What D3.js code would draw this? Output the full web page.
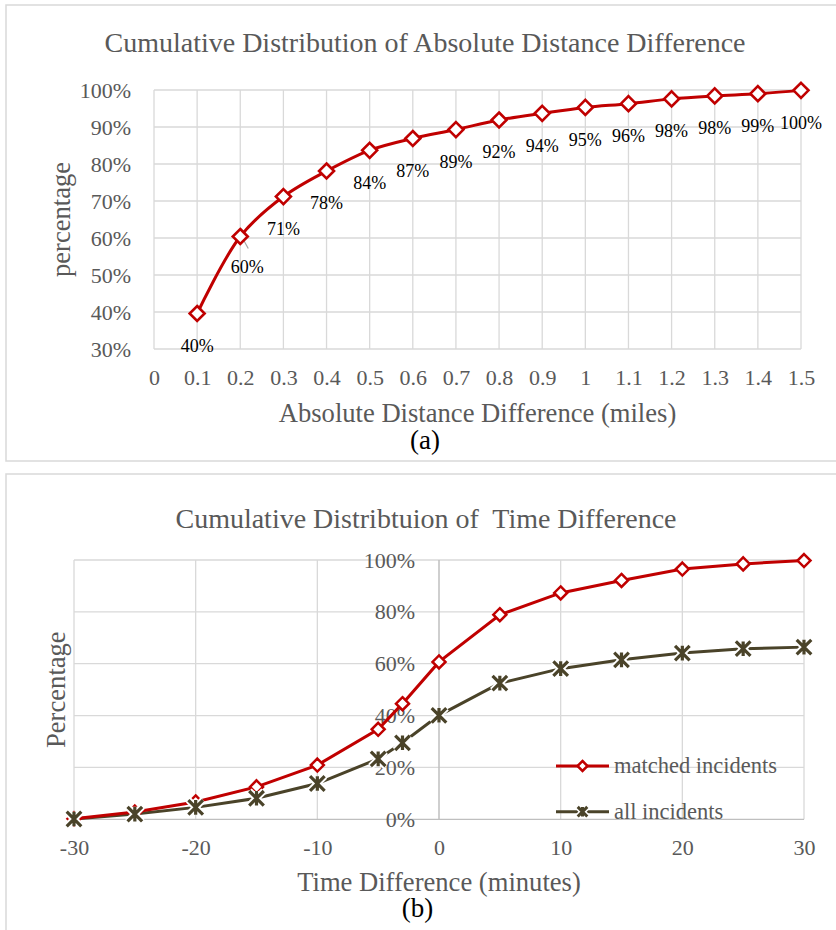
<!DOCTYPE html>
<html>
<head>
<meta charset="utf-8">
<script src="https://cdn.jsdelivr.net/npm/d3@7"></script>
<style>
  body { margin: 0; background: #fff; }
  svg { display: block; font-family: 'Liberation Serif', 'Times New Roman', serif; }
</style>
</head>
<body>
<svg id="chart" width="836" height="930"></svg>
<script>
// (a) cumulative distribution of absolute distance difference
const distMiles = [0.1, 0.2, 0.3, 0.4, 0.5, 0.6, 0.7, 0.8, 0.9, 1.0, 1.1, 1.2, 1.3, 1.4, 1.5];
const distPct = [0.396, 0.604, 0.712, 0.781, 0.837, 0.869, 0.893, 0.919, 0.937, 0.953, 0.963, 0.976, 0.984, 0.990, 0.999];
const distXTicks = d3.range(0, 16).map(i => i / 10);
const distYTicks = [0.3, 0.4, 0.5, 0.6, 0.7, 0.8, 0.9, 1.0];

// (b) cumulative distribution of time difference
const timeMinutes = [-30, -25, -20, -15, -10, -5, -3, 0, 5, 10, 15, 20, 25, 30];
const matchedPct = [0.002, 0.028, 0.067, 0.125, 0.209, 0.347, 0.446, 0.607, 0.789, 0.873, 0.921, 0.965, 0.985, 0.998];
const allPct = [0.001, 0.020, 0.046, 0.081, 0.138, 0.233, 0.295, 0.401, 0.525, 0.581, 0.615, 0.641, 0.658, 0.664];
const timeXTicks = [-30, -20, -10, 0, 10, 20, 30];
const timeYTicks = [0, 0.2, 0.4, 0.6, 0.8, 1.0];
const seriesNames = ['matched incidents', 'all incidents'];

const RED = '#c00000';
const DARK = '#4a4329';
const GRID = '#d9d9d9';
const AXIS = '#bfbfbf';
const TEXT = '#595959';

const svg = d3.select('#chart');
const pct = d3.format('.0%');

const diamond = r => `M0,${-r}L${r},0L0,${r}L${-r},0Z`;
const star = r => `M${-r},${-r}L${r},${r}M${-r},${r}L${r},${-r}M0,${-r}L0,${r}`;

// frames
svg.append('rect').attr('x', 6).attr('y', 5).attr('width', 840).attr('height', 456)
  .attr('fill', 'none').attr('stroke', GRID).attr('stroke-width', 1.5);
svg.append('rect').attr('x', 6).attr('y', 474).attr('width', 840).attr('height', 480)
  .attr('fill', 'none').attr('stroke', GRID).attr('stroke-width', 1.5);

function styleAxis(g, size) {
  g.select('.domain').remove();
  g.selectAll('text').style('font-size', size + 'px').attr('fill', TEXT)
    .style('font-family', "'Liberation Serif', 'Times New Roman', serif");
}

// ---------- chart (a) ----------
{
  const x = d3.scaleLinear([0, 1.5], [154, 801]);
  const y = d3.scaleLinear([0.3, 1], [349, 90]);
  const g = svg.append('g');

  // gridlines
  g.append('g').selectAll('line').data(distXTicks).join('line')
    .attr('x1', d => x(d)).attr('x2', d => x(d)).attr('y1', y(1)).attr('y2', y(0.3))
    .attr('stroke', GRID).attr('stroke-width', 1.3);
  g.append('g').selectAll('line').data(distYTicks).join('line')
    .attr('x1', x(0)).attr('x2', x(1.5)).attr('y1', d => y(d)).attr('y2', d => y(d))
    .attr('stroke', GRID).attr('stroke-width', 1.3);

  g.append('g').attr('transform', `translate(0,${y(0.3)})`)
    .call(d3.axisBottom(x).tickValues(distXTicks).tickFormat(d => String(+d.toFixed(1))).tickSize(0).tickPadding(20))
    .call(a => styleAxis(a, 22));
  g.append('g').attr('transform', `translate(${x(0)},0)`)
    .call(d3.axisLeft(y).tickValues(distYTicks).tickFormat(pct).tickSize(0).tickPadding(23))
    .call(a => styleAxis(a, 22));

  const pts = distMiles.map((m, i) => [x(m), y(distPct[i])]);
  g.append('path').attr('d', d3.line().curve(d3.curveCatmullRom.alpha(0.5))(pts))
    .attr('fill', 'none').attr('stroke', RED).attr('stroke-width', 3);

  // leader line for the moved 60% label
  g.append('line').attr('x1', pts[1][0] + 3).attr('y1', pts[1][1] + 3)
    .attr('x2', pts[1][0] + 8).attr('y2', pts[1][1] + 12)
    .attr('stroke', '#a6a6a6').attr('stroke-width', 1.2);

  g.append('g').selectAll('path').data(pts).join('path')
    .attr('transform', d => `translate(${d[0]},${d[1]})`)
    .attr('d', diamond(7.5)).attr('fill', '#fff').attr('stroke', RED).attr('stroke-width', 2.6);

  g.append('g').selectAll('text').data(pts).join('text')
    .attr('x', (d, i) => d[0] + (i === 1 ? 7 : 0))
    .attr('y', (d, i) => d[1] + (i === 1 ? 30 : 32))
    .attr('dy', '0.35em').attr('text-anchor', 'middle')
    .style('font-size', '18px').attr('fill', '#000')
    .text((d, i) => pct(distPct[i]));

  svg.append('text').attr('x', 425).attr('y', 52).attr('text-anchor', 'middle')
    .style('font-size', '28px').attr('fill', TEXT)
    .text('Cumulative Distribution of Absolute Distance Difference');
  svg.append('text').attr('x', (x(0) + x(1.5)) / 2).attr('y', 422).attr('text-anchor', 'middle')
    .style('font-size', '26.6px').attr('fill', TEXT)
    .text('Absolute Distance Difference (miles)');
  svg.append('text').attr('transform', `translate(70,${(y(0.3) + y(1)) / 2}) rotate(-90)`)
    .attr('text-anchor', 'middle').style('font-size', '26.6px').attr('fill', TEXT)
    .text('percentage');
  svg.append('text').attr('x', 425).attr('y', 449).attr('text-anchor', 'middle')
    .style('font-size', '27px').attr('fill', '#000').text('(a)');
}

// ---------- chart (b) ----------
{
  const x = d3.scaleLinear([-30, 30], [74, 804]);
  const y = d3.scaleLinear([0, 1], [819.3, 560]);
  const g = svg.append('g');

  g.append('g').selectAll('line').data(timeXTicks.filter(d => d !== 0)).join('line')
    .attr('x1', d => x(d)).attr('x2', d => x(d)).attr('y1', y(1)).attr('y2', y(0))
    .attr('stroke', GRID).attr('stroke-width', 1.3);
  g.append('g').selectAll('line').data(timeYTicks).join('line')
    .attr('x1', x(-30)).attr('x2', x(30)).attr('y1', d => y(d)).attr('y2', d => y(d))
    .attr('stroke', d => d === 0 ? AXIS : GRID).attr('stroke-width', 1.3);
  g.append('line').attr('x1', x(0)).attr('x2', x(0)).attr('y1', y(1)).attr('y2', y(0))
    .attr('stroke', AXIS).attr('stroke-width', 1.5);

  g.append('g').attr('transform', `translate(0,${y(0)})`)
    .call(d3.axisBottom(x).tickValues(timeXTicks).tickFormat(d => String(d)).tickSize(0).tickPadding(20))
    .call(a => styleAxis(a, 22));
  g.append('g').attr('transform', `translate(${x(0)},0)`)
    .call(d3.axisLeft(y).tickValues(timeYTicks).tickFormat(pct).tickSize(0).tickPadding(24))
    .call(a => styleAxis(a, 22));

  const line = d3.line().x((d, i) => x(timeMinutes[i])).y(d => y(d));

  // all incidents (dark, star markers with white halo)
  g.append('path').attr('d', line(allPct)).attr('fill', 'none').attr('stroke', DARK).attr('stroke-width', 3);
  // matched incidents (red, diamond markers)
  g.append('path').attr('d', line(matchedPct)).attr('fill', 'none').attr('stroke', RED).attr('stroke-width', 3);

  g.append('g').selectAll('path').data(matchedPct).join('path')
    .attr('transform', (d, i) => `translate(${x(timeMinutes[i])},${y(d)})`)
    .attr('d', diamond(6.5)).attr('fill', '#fff').attr('stroke', RED).attr('stroke-width', 2.5);

  const stars = g.append('g').selectAll('g').data(allPct).join('g')
    .attr('transform', (d, i) => `translate(${x(timeMinutes[i])},${y(d)})`);
  stars.append('path').attr('d', star(7.3)).attr('stroke', '#fff').attr('stroke-width', 7).attr('fill', 'none');
  stars.append('path').attr('d', star(7.3)).attr('stroke', DARK).attr('stroke-width', 3.2).attr('fill', 'none');

  // legend
  const leg = g.append('g');
  const legColors = [RED, DARK];
  seriesNames.forEach((name, i) => {
    const ly = 766 + i * 45.7;
    leg.append('line').attr('x1', 556).attr('x2', 609).attr('y1', ly).attr('y2', ly)
      .attr('stroke', legColors[i]).attr('stroke-width', 3);
    if (i === 0) {
      leg.append('path').attr('transform', `translate(582.5,${ly})`).attr('d', diamond(5))
        .attr('fill', '#fff').attr('stroke', RED).attr('stroke-width', 2.5);
    } else {
      leg.append('path').attr('transform', `translate(582.5,${ly})`).attr('d', star(4.8))
        .attr('stroke', '#fff').attr('stroke-width', 6).attr('fill', 'none');
      leg.append('path').attr('transform', `translate(582.5,${ly})`).attr('d', star(4.8))
        .attr('stroke', DARK).attr('stroke-width', 3).attr('fill', 'none');
    }
    leg.append('text').attr('x', 614).attr('y', ly).attr('dy', '0.32em')
      .style('font-size', '22.5px').attr('fill', TEXT).text(name);
  });

  svg.append('text').attr('x', 426).attr('y', 528).attr('text-anchor', 'middle')
    .style('font-size', '28px').style('white-space', 'pre').attr('fill', TEXT)
    .text('Cumulative Distribtuion of  Time Difference');
  svg.append('text').attr('x', (x(-30) + x(30)) / 2).attr('y', 891).attr('text-anchor', 'middle')
    .style('font-size', '26.6px').attr('fill', TEXT)
    .text('Time Difference (minutes)');
  svg.append('text').attr('transform', `translate(65,${(y(0) + y(1)) / 2}) rotate(-90)`)
    .attr('text-anchor', 'middle').style('font-size', '26.6px').attr('fill', TEXT)
    .text('Percentage');
  svg.append('text').attr('x', 417.5).attr('y', 917).attr('text-anchor', 'middle')
    .style('font-size', '27px').attr('fill', '#000').text('(b)');
}
</script>
</body>
</html>
